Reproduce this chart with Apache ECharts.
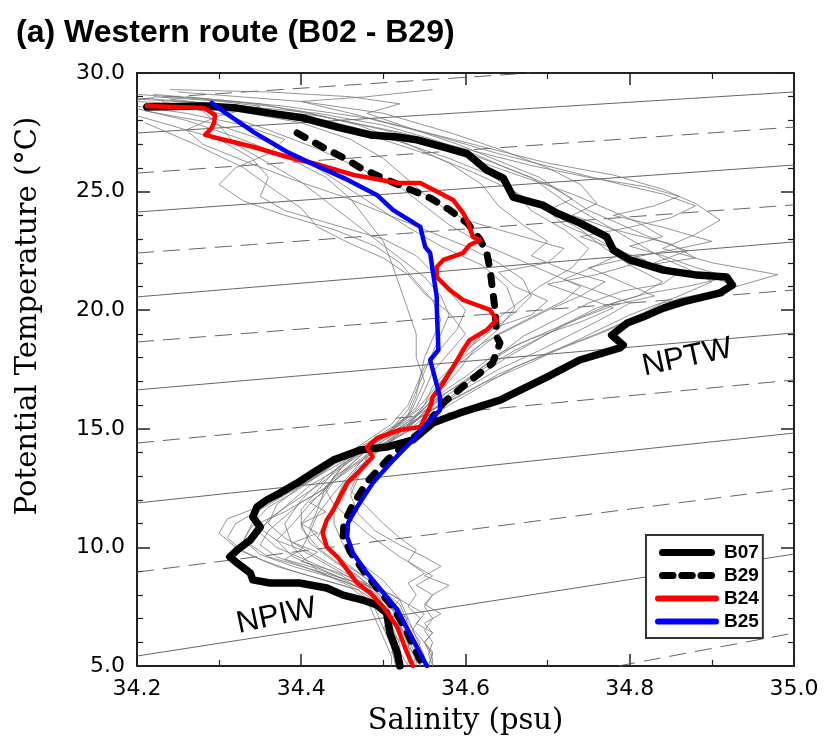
<!DOCTYPE html>
<html><head><meta charset="utf-8">
<script src="https://cdn.jsdelivr.net/npm/echarts@6/dist/echarts.min.js"></script>
<style>html,body{margin:0;padding:0;background:#fff}#c{width:824px;height:749px}</style>
</head><body><div id="c"></div>
<script>
// ---------------- DATA ----------------
const titleText = '(a) Western route (B02 - B29)';
const xTicks = [34.2, 34.4, 34.6, 34.8, 35.0];
const yTicks = [5, 10, 15, 20, 25, 30];

// isopycnal guide lines (sigma-theta)
const isoNames  = ['21.5','22.0','22.5','23.0','23.5','24.0','24.5','25.0','25.5','26.0','26.5','27.0','27.5'];
const isoDashed = [true,false,true,false,true,false,true,false,true,false,true,false,true];
const isoStart  = [[34.2,28.90],[34.2,27.47],[34.2,25.78],[34.2,24.14],[34.2,22.41],[34.2,20.56],[34.2,18.66],[34.2,16.64],[34.2,14.40],[34.2,11.87],[34.2,8.96],[34.2,5.42],[34.786,5.0]];
const isoEnd    = [[34.679,30.0],[35.0,29.20],[35.0,27.72],[35.0,26.12],[35.0,24.44],[35.0,22.88],[35.0,20.85],[35.0,19.04],[35.0,17.06],[35.0,14.82],[35.0,12.50],[35.0,9.72],[35.0,6.39]];

// highlighted stations [salinity, potential temperature]
const B07 = [[34.212,28.57],[34.282,28.61],[34.322,28.52],[34.362,28.31],[34.403,28.10],[34.444,27.72],[34.484,27.39],[34.517,27.30],[34.541,27.18],[34.602,26.60],[34.626,25.91],[34.646,25.57],[34.658,24.77],[34.694,24.43],[34.711,24.10],[34.739,23.68],[34.772,23.09],[34.780,22.54],[34.800,22.12],[34.841,21.69],[34.882,21.48],[34.918,21.40],[34.925,21.06],[34.910,20.73],[34.865,20.35],[34.841,20.09],[34.816,19.71],[34.797,19.46],[34.778,18.95],[34.792,18.53],[34.788,18.41],[34.739,17.90],[34.699,17.18],[34.642,16.21],[34.593,15.67],[34.560,15.24],[34.536,14.53],[34.504,14.23],[34.472,14.11],[34.439,13.68],[34.414,13.14],[34.395,12.71],[34.374,12.29],[34.358,12.00],[34.346,11.70],[34.341,11.28],[34.350,10.86],[34.338,10.31],[34.322,9.89],[34.313,9.60],[34.322,9.34],[34.338,8.92],[34.341,8.63],[34.362,8.50],[34.398,8.50],[34.431,8.29],[34.451,7.99],[34.475,7.78],[34.492,7.57],[34.504,7.23],[34.508,6.39],[34.517,5.55],[34.520,5.00]];
const B29 = [[34.395,27.47],[34.428,26.84],[34.452,26.42],[34.472,26.00],[34.496,25.62],[34.557,24.73],[34.581,24.22],[34.602,23.68],[34.618,22.96],[34.626,22.41],[34.630,21.69],[34.633,20.85],[34.636,20.01],[34.638,18.87],[34.642,18.62],[34.633,17.77],[34.602,16.93],[34.573,16.09],[34.560,15.50],[34.553,15.08],[34.530,14.45],[34.505,13.70],[34.480,12.75],[34.462,11.75],[34.452,11.00],[34.451,10.45],[34.460,9.80],[34.477,8.95],[34.497,8.10],[34.514,7.36],[34.529,6.40],[34.548,5.00]];
const B24 = [[34.212,28.61],[34.282,28.52],[34.295,28.23],[34.294,27.93],[34.291,27.68],[34.283,27.39],[34.297,27.26],[34.342,26.88],[34.383,26.46],[34.423,26.12],[34.464,25.70],[34.517,25.36],[34.545,25.36],[34.585,24.65],[34.597,24.10],[34.602,23.80],[34.609,23.09],[34.618,22.96],[34.605,22.75],[34.597,22.41],[34.573,22.12],[34.565,21.82],[34.565,21.40],[34.581,20.85],[34.597,20.43],[34.630,20.01],[34.638,19.59],[34.626,19.17],[34.605,18.74],[34.597,18.32],[34.585,17.61],[34.573,16.93],[34.560,16.34],[34.557,15.92],[34.545,15.08],[34.520,14.95],[34.492,14.61],[34.480,14.23],[34.487,13.81],[34.472,13.26],[34.456,12.71],[34.447,12.12],[34.439,11.58],[34.431,11.15],[34.426,10.61],[34.431,10.02],[34.444,9.60],[34.456,9.05],[34.468,8.50],[34.484,8.08],[34.500,7.49],[34.517,6.64],[34.529,5.55],[34.536,5.00]];
const B25 = [[34.291,28.74],[34.306,28.36],[34.342,27.51],[34.383,26.67],[34.411,26.21],[34.452,25.57],[34.492,24.86],[34.512,24.22],[34.545,23.51],[34.551,22.66],[34.557,22.41],[34.560,21.69],[34.565,20.56],[34.565,20.13],[34.567,18.32],[34.557,17.90],[34.569,16.34],[34.569,15.79],[34.557,15.37],[34.536,14.53],[34.512,13.68],[34.487,12.71],[34.468,11.70],[34.457,11.03],[34.456,10.44],[34.463,9.76],[34.480,8.92],[34.500,8.08],[34.517,7.36],[34.532,6.39],[34.553,5.00]];

// other stations (thin grey profiles)
const g01 = [[34.22,29.0],[34.35,28.7],[34.45,28.0],[34.55,27.2],[34.62,26.4],[34.68,25.6],[34.72,24.6],[34.76,23.8],[34.80,23.0],[34.84,22.2],[34.88,21.6],[34.90,21.2],[34.86,20.6],[34.80,19.8],[34.74,18.8],[34.68,17.8],[34.62,16.9],[34.57,16.0],[34.52,15.0],[34.47,14.0],[34.43,13.0],[34.40,12.0],[34.38,11.0],[34.39,10.0],[34.42,9.0],[34.47,8.2],[34.50,7.5],[34.51,6.5],[34.52,5.6],[34.53,5.0]];
const g02 = [[34.25,29.2],[34.40,28.8],[34.50,28.3],[34.58,27.5],[34.64,26.8],[34.70,26.0],[34.74,25.3],[34.76,24.5],[34.73,24.0],[34.78,23.4],[34.85,22.8],[34.88,22.2],[34.82,21.9],[34.90,21.4],[34.93,21.0],[34.88,20.6],[34.84,20.3],[34.80,19.6],[34.76,19.0],[34.70,18.2],[34.64,17.3],[34.60,16.5],[34.56,15.8],[34.53,15.1],[34.50,14.3],[34.46,13.3],[34.42,12.3],[34.38,11.5],[34.34,10.9],[34.33,10.3],[34.36,9.6],[34.40,9.2],[34.45,8.6],[34.49,8.0],[34.50,7.2],[34.51,6.4],[34.52,5.7],[34.52,5.0]];
const g03 = [[34.20,28.8],[34.30,28.6],[34.42,28.2],[34.52,27.5],[34.60,26.8],[34.68,26.1],[34.75,25.6],[34.82,25.2],[34.86,24.8],[34.83,24.4],[34.78,24.0],[34.84,23.5],[34.90,22.9],[34.86,22.6],[34.80,22.2],[34.75,21.8],[34.79,21.2],[34.83,20.6],[34.78,20.2],[34.72,19.4],[34.66,18.5],[34.62,17.6],[34.60,17.0],[34.57,16.4],[34.54,15.6],[34.50,14.7],[34.47,13.8],[34.44,12.8],[34.42,11.8],[34.40,11.0],[34.41,10.2],[34.44,9.4],[34.47,8.8],[34.49,8.0],[34.52,7.2],[34.53,6.4],[34.54,5.6],[34.545,5.0]];
const g04 = [[34.22,28.6],[34.32,28.4],[34.40,27.9],[34.46,27.2],[34.50,26.4],[34.53,25.5],[34.56,24.6],[34.60,23.8],[34.66,23.2],[34.72,22.6],[34.70,22.0],[34.64,21.6],[34.66,21.0],[34.70,20.4],[34.68,19.8],[34.63,19.2],[34.60,18.4],[34.58,17.5],[34.56,16.8],[34.55,16.0],[34.52,15.2],[34.49,14.4],[34.46,13.5],[34.43,12.6],[34.42,11.6],[34.41,10.8],[34.43,10.0],[34.46,9.2],[34.49,8.4],[34.52,7.6],[34.53,6.8],[34.55,6.0],[34.56,5.3],[34.56,5.0]];
const g05 = [[34.20,28.2],[34.24,27.8],[34.30,27.2],[34.34,26.4],[34.36,25.6],[34.35,24.8],[34.38,24.2],[34.44,23.6],[34.50,23.0],[34.54,22.3],[34.56,21.6],[34.58,20.8],[34.60,20.0],[34.59,19.2],[34.57,18.4],[34.55,17.6],[34.54,16.8],[34.53,16.0],[34.51,15.2],[34.48,14.5],[34.45,13.8],[34.42,13.0],[34.38,12.2],[34.35,11.6],[34.32,11.0],[34.31,10.4],[34.33,9.8],[34.37,9.2],[34.42,8.7],[34.47,8.2],[34.49,7.4],[34.50,6.6],[34.51,5.8],[34.515,5.0]];
const g06 = [[34.21,27.9],[34.27,27.0],[34.33,26.0],[34.37,25.0],[34.40,24.3],[34.42,23.5],[34.46,22.8],[34.50,22.2],[34.53,21.5],[34.55,20.7],[34.58,19.9],[34.60,19.0],[34.58,18.2],[34.56,17.4],[34.55,16.6],[34.54,15.9],[34.52,15.3],[34.49,14.6],[34.46,14.0],[34.43,13.3],[34.40,12.6],[34.37,11.8],[34.36,11.0],[34.38,10.4],[34.41,9.8],[34.44,9.2],[34.47,8.6],[34.50,8.0],[34.51,7.0],[34.52,6.2],[34.53,5.4],[34.53,5.0]];
const g07 = [[34.24,28.9],[34.34,28.5],[34.44,27.8],[34.52,27.1],[34.58,26.4],[34.63,25.7],[34.66,25.0],[34.70,24.2],[34.74,23.4],[34.77,22.6],[34.80,21.9],[34.84,21.2],[34.81,20.6],[34.76,20.1],[34.72,19.4],[34.69,18.8],[34.65,18.0],[34.61,17.1],[34.58,16.3],[34.55,15.6],[34.52,14.9],[34.48,14.1],[34.45,13.4],[34.43,12.5],[34.41,11.8],[34.39,11.0],[34.37,10.3],[34.39,9.6],[34.43,9.0],[34.46,8.5],[34.49,7.9],[34.50,7.2],[34.51,6.4],[34.52,5.5],[34.525,5.0]];
const g08 = [[34.23,28.7],[34.30,28.3],[34.36,27.6],[34.42,26.8],[34.47,26.0],[34.52,25.2],[34.55,24.4],[34.58,23.6],[34.62,22.8],[34.66,22.2],[34.70,21.6],[34.74,21.0],[34.72,20.4],[34.68,19.7],[34.64,19.0],[34.61,18.2],[34.58,17.4],[34.56,16.6],[34.54,15.8],[34.51,15.0],[34.48,14.2],[34.45,13.4],[34.42,12.6],[34.39,11.9],[34.36,11.2],[34.35,10.6],[34.37,10.0],[34.41,9.4],[34.45,8.8],[34.48,8.2],[34.50,7.6],[34.52,6.8],[34.53,6.0],[34.54,5.2],[34.54,5.0]];
const g09 = [[34.26,29.0],[34.38,28.6],[34.48,28.1],[34.56,27.4],[34.64,26.6],[34.72,25.9],[34.79,25.3],[34.84,24.9],[34.88,24.4],[34.85,23.9],[34.80,23.5],[34.74,23.1],[34.78,22.6],[34.82,22.1],[34.76,21.5],[34.70,21.1],[34.74,20.6],[34.78,20.1],[34.74,19.5],[34.68,18.8],[34.63,18.0],[34.60,17.2],[34.57,16.5],[34.55,15.7],[34.53,15.0],[34.50,14.2],[34.47,13.4],[34.45,12.6],[34.44,11.8],[34.44,11.0],[34.45,10.2],[34.47,9.4],[34.50,8.6],[34.52,7.8],[34.53,7.0],[34.54,6.2],[34.55,5.4],[34.55,5.0]];
const g10 = [[34.56,29.3],[34.48,29.0],[34.40,28.8],[34.46,28.3],[34.54,27.6],[34.62,26.9],[34.70,26.2],[34.78,25.7],[34.84,25.1],[34.88,24.5],[34.91,23.8],[34.88,23.2],[34.84,22.6],[34.90,22.0],[34.98,21.5],[34.92,20.9],[34.86,20.5],[34.82,19.9],[34.77,19.1],[34.71,18.3],[34.66,17.6],[34.62,16.8],[34.58,16.0],[34.55,15.3],[34.51,14.5],[34.48,13.7],[34.46,12.9],[34.45,12.0],[34.43,11.2],[34.42,10.4],[34.44,9.6],[34.47,8.9],[34.50,8.2],[34.52,7.4],[34.53,6.6],[34.54,5.8],[34.55,5.0]];
const g11 = [[34.20,28.5],[34.26,28.0],[34.32,27.3],[34.38,26.5],[34.43,25.6],[34.46,24.7],[34.48,23.8],[34.50,22.9],[34.51,22.0],[34.52,21.0],[34.53,20.0],[34.54,19.0],[34.54,18.0],[34.55,17.0],[34.54,16.2],[34.53,15.5],[34.50,14.7],[34.47,14.0],[34.44,13.2],[34.42,12.4],[34.40,11.6],[34.40,10.8],[34.42,10.0],[34.45,9.2],[34.48,8.5],[34.50,7.8],[34.52,7.0],[34.53,6.2],[34.54,5.4],[34.545,5.0]];
const g12 = [[34.21,28.4],[34.29,27.9],[34.36,27.1],[34.41,26.2],[34.45,25.3],[34.49,24.4],[34.53,23.5],[34.57,22.7],[34.62,21.9],[34.65,21.0],[34.66,20.1],[34.64,19.2],[34.61,18.3],[34.59,17.4],[34.57,16.6],[34.55,15.9],[34.53,15.2],[34.50,14.5],[34.48,13.8],[34.47,13.0],[34.46,12.2],[34.47,11.4],[34.49,10.7],[34.52,10.1],[34.55,9.6],[34.57,9.2],[34.55,8.8],[34.58,8.4],[34.56,8.0],[34.55,7.5],[34.56,7.0],[34.55,6.5],[34.56,6.0],[34.555,5.5],[34.56,5.0]];
const g13 = [[34.22,29.1],[34.32,28.8],[34.40,28.4],[34.47,27.8],[34.53,27.0],[34.58,26.2],[34.62,25.3],[34.64,24.4],[34.67,23.6],[34.70,22.9],[34.68,22.3],[34.72,21.7],[34.77,21.2],[34.74,20.6],[34.70,20.0],[34.66,19.3],[34.62,18.6],[34.59,17.8],[34.57,17.0],[34.56,16.2],[34.54,15.5],[34.52,14.8],[34.49,14.0],[34.47,13.2],[34.46,12.4],[34.48,11.7],[34.50,11.0],[34.52,10.4],[34.54,9.9],[34.53,9.4],[34.55,8.9],[34.53,8.5],[34.54,8.0],[34.53,7.5],[34.545,7.0],[34.535,6.5],[34.545,6.0],[34.54,5.5],[34.545,5.0]];
const g14 = [[34.23,28.8],[34.28,28.4],[34.30,27.8],[34.32,27.0],[34.36,26.2],[34.40,25.4],[34.43,24.6],[34.46,23.8],[34.49,23.0],[34.52,22.2],[34.55,21.4],[34.57,20.6],[34.58,19.8],[34.57,19.0],[34.56,18.2],[34.55,17.4],[34.54,16.6],[34.53,15.8],[34.51,15.0],[34.48,14.2],[34.44,13.5],[34.41,12.8],[34.37,12.2],[34.34,11.6],[34.31,11.2],[34.30,10.6],[34.32,10.0],[34.35,9.5],[34.39,9.0],[34.43,8.6],[34.46,8.3],[34.48,7.8],[34.49,7.0],[34.50,6.2],[34.51,5.4],[34.51,5.0]];
const g15 = [[34.20,28.9],[34.30,28.7],[34.42,28.3],[34.50,27.8],[34.56,27.2],[34.61,26.6],[34.65,26.0],[34.70,25.3],[34.73,24.7],[34.70,24.2],[34.72,23.6],[34.76,23.0],[34.79,22.4],[34.76,21.9],[34.72,21.3],[34.76,20.8],[34.80,20.3],[34.77,19.7],[34.73,19.0],[34.69,18.3],[34.64,17.5],[34.60,16.7],[34.57,16.0],[34.54,15.4],[34.51,14.6],[34.48,13.9],[34.46,13.1],[34.44,12.3],[34.42,11.4],[34.41,10.6],[34.40,9.9],[34.43,9.3],[34.46,8.7],[34.49,8.2],[34.51,7.5],[34.52,6.7],[34.53,5.9],[34.535,5.0]];
const g16 = [[34.20,28.6],[34.26,28.3],[34.33,27.8],[34.38,27.2],[34.36,26.6],[34.32,26.0],[34.30,25.3],[34.33,24.6],[34.38,24.0],[34.44,23.4],[34.49,22.7],[34.52,22.0],[34.54,21.2],[34.56,20.4],[34.57,19.6],[34.56,18.8],[34.55,18.0],[34.545,17.2],[34.54,16.4],[34.53,15.6],[34.51,14.9],[34.48,14.2],[34.45,13.6],[34.42,13.0],[34.39,12.3],[34.36,11.7],[34.34,11.0],[34.33,10.3],[34.35,9.7],[34.39,9.2],[34.44,8.7],[34.48,8.2],[34.50,7.5],[34.51,6.7],[34.52,5.9],[34.52,5.0]];
const g17 = [[34.21,28.7],[34.31,28.5],[34.41,28.0],[34.49,27.3],[34.56,26.5],[34.61,25.8],[34.66,25.0],[34.68,24.2],[34.72,23.4],[34.75,22.6],[34.73,21.8],[34.69,21.0],[34.66,20.2],[34.63,19.4],[34.61,18.6],[34.59,17.8],[34.575,17.0],[34.565,16.2],[34.55,15.5],[34.53,14.9],[34.50,14.3],[34.47,13.6],[34.44,13.0],[34.43,12.4],[34.41,11.9],[34.43,11.5],[34.40,11.0],[34.42,10.6],[34.39,10.2],[34.42,9.8],[34.40,9.4],[34.44,9.0],[34.47,8.6],[34.50,8.2],[34.52,7.8],[34.51,7.4],[34.53,7.0],[34.52,6.6],[34.535,6.2],[34.53,5.8],[34.54,5.4],[34.535,5.0]];
const g18 = [[34.22,28.9],[34.33,28.6],[34.43,28.0],[34.50,27.4],[34.57,26.8],[34.63,26.1],[34.68,25.5],[34.73,24.9],[34.77,24.3],[34.81,23.7],[34.84,23.1],[34.80,22.7],[34.84,22.3],[34.88,21.8],[34.92,21.4],[34.87,21.0],[34.82,20.7],[34.78,20.3],[34.74,19.7],[34.70,19.0],[34.66,18.3],[34.62,17.5],[34.59,16.7],[34.56,16.0],[34.53,15.3],[34.50,14.6],[34.46,13.9],[34.44,13.2],[34.41,12.6],[34.39,12.0],[34.37,11.4],[34.35,10.8],[34.37,10.3],[34.40,9.9],[34.38,9.5],[34.42,9.1],[34.45,8.7],[34.48,8.4],[34.51,8.0],[34.53,7.6],[34.55,7.2],[34.54,6.8],[34.56,6.4],[34.55,6.0],[34.56,5.6],[34.555,5.0]];
const g19 = [[34.20,29.1],[34.28,28.9],[34.35,28.6],[34.30,28.2],[34.26,27.6],[34.28,27.0],[34.33,26.3],[34.39,25.5],[34.45,24.8],[34.50,24.1],[34.55,23.4],[34.60,22.7],[34.64,22.0],[34.67,21.3],[34.68,20.6],[34.66,19.9],[34.63,19.1],[34.60,18.3],[34.58,17.5],[34.565,16.7],[34.55,16.0],[34.535,15.4],[34.51,14.8],[34.48,14.2],[34.455,13.6],[34.44,13.0],[34.43,12.4],[34.44,11.8],[34.46,11.2],[34.48,10.6],[34.50,10.1],[34.52,9.6],[34.54,9.2],[34.56,8.8],[34.54,8.4],[34.56,8.0],[34.55,7.6],[34.57,7.2],[34.55,6.8],[34.56,6.4],[34.55,6.0],[34.56,5.5],[34.555,5.0]];
const g20 = [[34.24,29.3],[34.36,29.2],[34.46,29.0],[34.52,28.7],[34.48,28.3],[34.53,27.7],[34.59,27.0],[34.64,26.3],[34.69,25.6],[34.72,24.9],[34.75,24.2],[34.79,23.6],[34.83,23.0],[34.87,22.5],[34.83,22.0],[34.86,21.6],[34.84,21.1],[34.79,20.8],[34.75,20.3],[34.71,19.6],[34.67,18.9],[34.64,18.1],[34.61,17.3],[34.58,16.6],[34.555,15.9],[34.535,15.2],[34.505,14.5],[34.475,13.8],[34.45,13.1],[34.43,12.5],[34.40,11.9],[34.38,11.3],[34.36,10.7],[34.35,10.1],[34.37,9.6],[34.41,9.1],[34.46,8.6],[34.49,8.1],[34.50,7.6],[34.51,7.1],[34.50,6.6],[34.52,6.1],[34.51,5.6],[34.52,5.0]];
const greyProfiles = [g01,g02,g03,g04,g05,g06,g07,g08,g09,g10,g11,g12,g13,g14,g15,g16,g17,g18,g19,g20];

const labels = [{text:'NPTW', at:[34.87,18.0]}, {text:'NPIW', at:[34.37,7.1]}];

// ---------------- CHART ----------------
const chart = echarts.init(document.getElementById('c'), null, {renderer:'canvas'});
const series = [];
isoNames.forEach((n,i)=>{
  series.push({type:'line', name:'iso'+n, data:[isoStart[i], isoEnd[i]], symbol:'none', silent:true, z:1,
    lineStyle:{color:'#555', width:0.9, type: isoDashed[i] ? [17,9] : 'solid'}});
});
greyProfiles.forEach((p,i)=>{
  series.push({type:'line', name:'grey'+i, data:p, symbol:'none', silent:true, z:2,
    lineStyle:{color:'#7a7a7a', width:0.8}});
});
series.push({type:'line', name:'B07', data:B07, symbol:'none', z:5, itemStyle:{color:'#000'}, lineStyle:{color:'#000', width:7.5, cap:'round', join:'round'}});
series.push({type:'line', name:'B29', data:B29, symbol:'none', z:6, itemStyle:{color:'#000'}, lineStyle:{color:'#000', width:7, type:[9,12], cap:'round', join:'round'}});
series.push({type:'line', name:'B24', data:B24, symbol:'none', z:7, itemStyle:{color:'#ff0000'}, lineStyle:{color:'#ff0000', width:4.5, cap:'round', join:'round'}});
series.push({type:'line', name:'B25', data:B25, symbol:'none', z:8, itemStyle:{color:'#0000ff'}, lineStyle:{color:'#0000ff', width:4.5, cap:'round', join:'round'}});

const iconSolid = 'path://M4,0 L60,0 A4,4 0 0 1 60,8 L4,8 A4,4 0 0 1 4,0 Z';
const iconDash = 'path://M4,0 L16,0 A4,4 0 0 1 16,8 L4,8 A4,4 0 0 1 4,0 Z M26,0 L38,0 A4,4 0 0 1 38,8 L26,8 A4,4 0 0 1 26,0 Z M48,0 L60,0 A4,4 0 0 1 60,8 L48,8 A4,4 0 0 1 48,0 Z';
const iconThin = 'path://M3,0 L61,0 A3,3 0 0 1 61,6 L3,6 A3,3 0 0 1 3,0 Z';

const tickFont = {fontFamily:'DejaVu Sans', fontSize:22, color:'#000'};
function xAx(pos, show){
  return {type:'value', position:pos, min:34.2, max:35.0, interval:0.2,
    axisLine:{show:true, onZero:false, lineStyle:{color:'#222', width:2}},
    axisTick:{show:true, inside:true, length:12, lineStyle:{color:'#222', width:1.5}},
    minorTick:{show:true, splitNumber:2, length:6, lineStyle:{color:'#222', width:1.2}},
    splitLine:{show:false},
    axisLabel:Object.assign({show:show, margin:12, formatter:v=>v.toFixed(1)}, tickFont),
    name: show ? 'Salinity (psu)' : '', nameLocation:'middle', nameGap:41,
    nameTextStyle:{fontFamily:'DejaVu Serif', fontSize:29, color:'#000'}};
}
function yAx(pos, show){
  return {type:'value', position:pos, min:5, max:30, interval:5,
    axisLine:{show:true, onZero:false, lineStyle:{color:'#222', width:2}},
    axisTick:{show:true, inside:true, length:13, lineStyle:{color:'#222', width:1.5}},
    minorTick:{show:true, splitNumber:5, length:6, lineStyle:{color:'#222', width:1.2}},
    splitLine:{show:false},
    axisLabel:Object.assign({show:show, margin:12, formatter:v=>v.toFixed(1)}, tickFont)};
}

chart.setOption({
  animation:false,
  backgroundColor:'#fff',
  title:{text:titleText, left:11, top:12, textStyle:{fontFamily:'Liberation Sans', fontWeight:'bold', fontSize:32, color:'#000'}},
  grid:{left:137, right:30, top:73, bottom:83, containLabel:false},
  xAxis:[xAx('bottom', true), xAx('top', false)],
  yAxis:[yAx('left', true), yAx('right', false)],
  legend:{data:[{name:'B07', icon:iconSolid},{name:'B29', icon:iconDash},{name:'B24', icon:iconThin},{name:'B25', icon:iconThin}],
    orient:'vertical', left:646, top:535,
    itemWidth:64, itemHeight:7, itemGap:4, padding:[8,4,7,9],
    borderColor:'#333', borderWidth:2, backgroundColor:'#fff',
    textStyle:{fontFamily:'Liberation Sans', fontWeight:'bold', fontSize:19, lineHeight:19, color:'#000'}},
  series: series
});

const g = [];
g.push({type:'text', x:28, y:316, rotation:Math.PI/2, z:10,
  style:{text:'Potential Temperature (°C)', font:'29px "DejaVu Serif"', fill:'#000', textAlign:'center', textVerticalAlign:'middle'}});
labels.forEach(l=>{
  const p = chart.convertToPixel({xAxisIndex:0, yAxisIndex:0}, l.at);
  g.push({type:'text', x:p[0], y:p[1], rotation:0.21, z:10,
    style:{text:l.text, font:'31px "Liberation Sans"', fill:'#000', textAlign:'center', textVerticalAlign:'middle'}});
});
chart.setOption({graphic:g});
</script></body></html>
